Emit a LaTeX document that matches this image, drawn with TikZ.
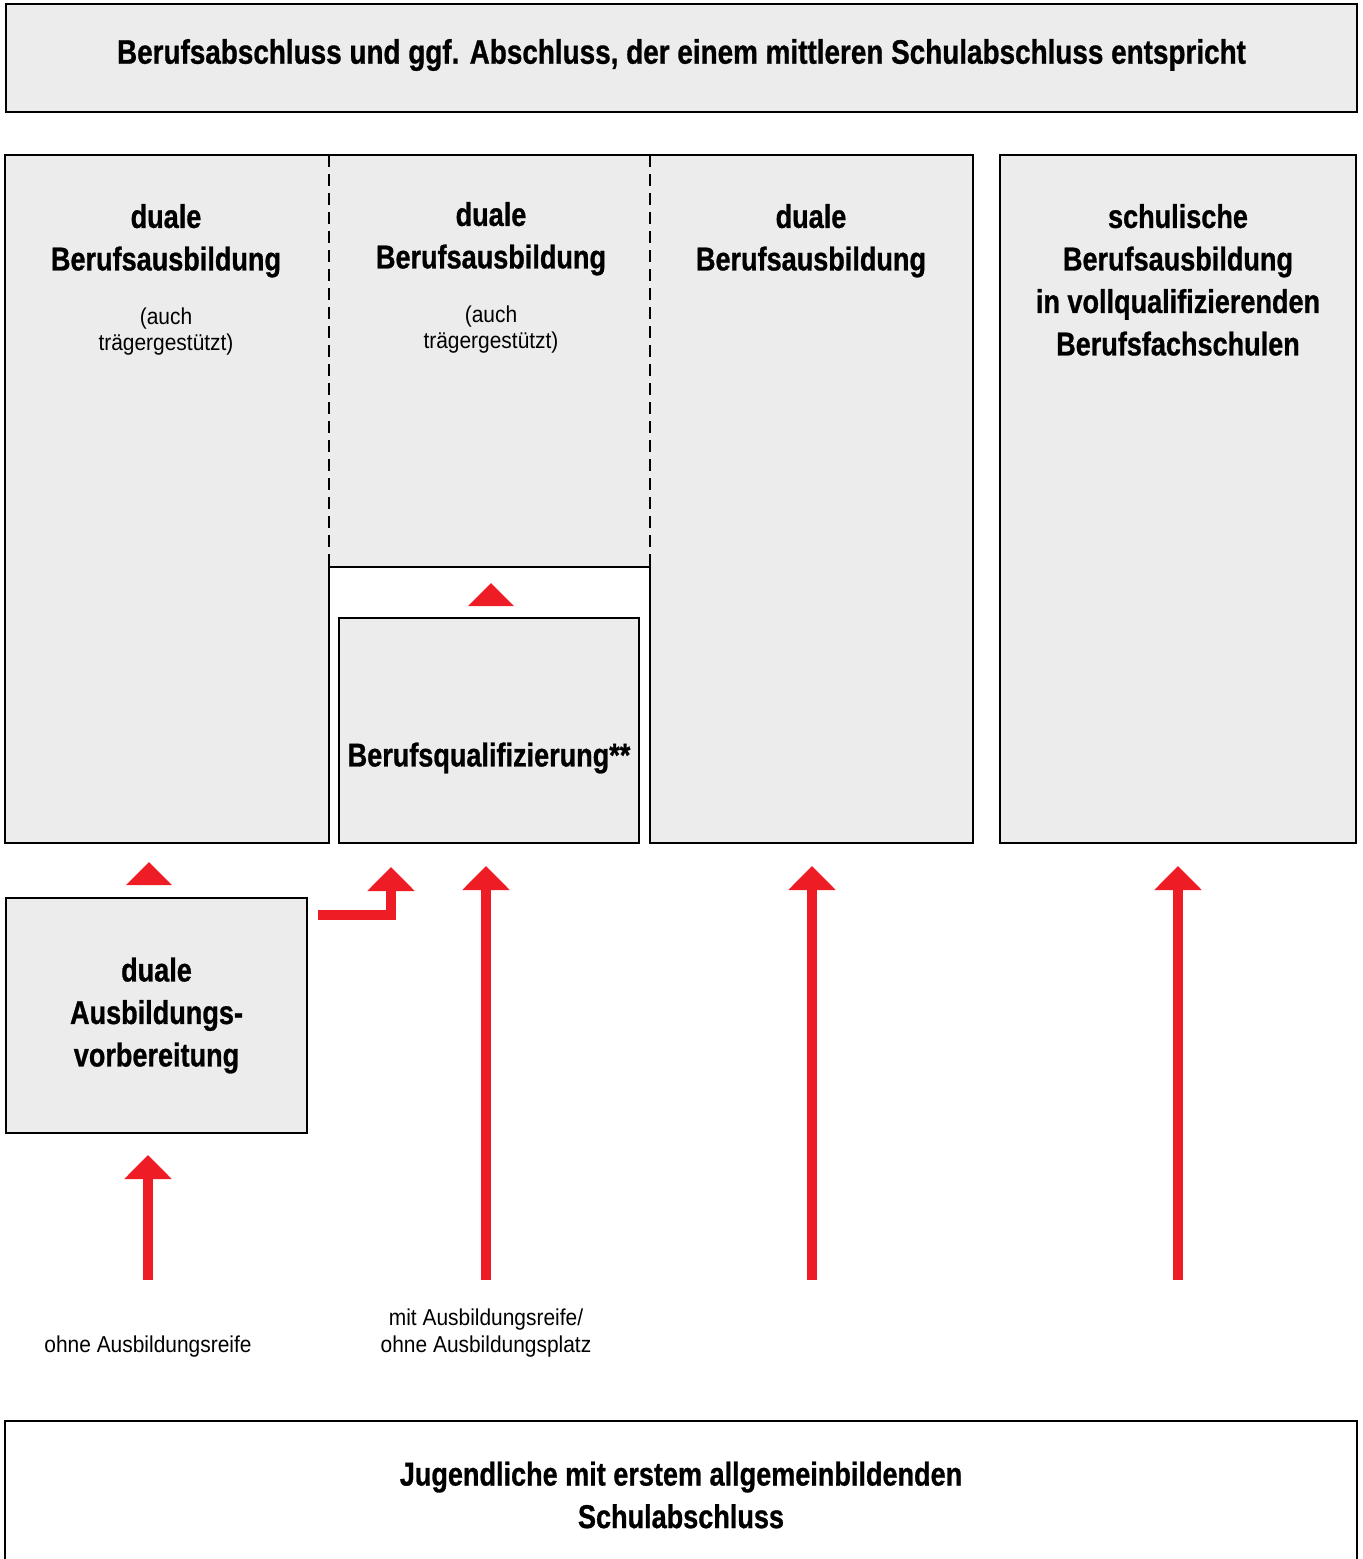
\documentclass[tikz,border=0pt]{standalone}
\usepackage{fontspec}
\setmainfont{Liberation Sans}[FakeStretch=0.91]
\newfontfamily\headfont{Liberation Sans}[FakeStretch=0.82,FakeBold=0.8]
\usetikzlibrary{arrows.meta,positioning,calc}

\definecolor{boxgray}{HTML}{ECECEC}
\definecolor{arrowred}{HTML}{EE1C25}

\begin{document}
\begin{tikzpicture}
  [x=1pt,y=-1pt,
   every node/.style={inner sep=0pt,outer sep=0pt},
   box/.style={draw,line width=2.5pt,fill=boxgray,align=center},
   area/.style={fill=boxgray},
   head/.style={font=\headfont\bfseries\fontsize{33}{42.5}\selectfont,align=center},
   note/.style={font=\fontsize{23}{26.5}\selectfont,align=center},
   dashline/.style={line width=2pt,dash pattern=on 12pt off 7pt},
   redarrow/.style={arrowred,line width=10pt,line join=miter,
     -{Triangle[width=46pt,length=24pt]}},
   marker/.style={fill=arrowred}]
  \useasboundingbox (0,0) rectangle (1363,1559);

  % Abschluss oben
  \node[box,minimum width=1351pt,minimum height=108pt] (top) at (681.5,58) {};
  \node[head,font=\headfont\bfseries\fontsize{34}{42}\selectfont] (toptext) at (681.5,55)
    {Berufsabschluss und ggf. Abschluss, der einem mittleren Schulabschluss entspricht};

  % drei Spalten duale Ausbildung
  \node[area,minimum width=324pt,minimum height=688pt] (colA) at (167,499) {};
  \node[area,minimum width=321pt,minimum height=412pt] (colB) at (489.5,361) {};
  \node[area,minimum width=323pt,minimum height=688pt] (colC) at (811.5,499) {};
  \draw[line width=2.5pt] (colB.south west) -- (colA.south east) -- (colA.south west)
    -- (colA.north west) -- (colC.north east) -- (colC.south east)
    -- (colC.south west) -- (colB.south east) -- cycle;
  \draw[dashline] (colB.north west) -- (colB.south west);
  \draw[dashline] (colB.north east) -- (colB.south east);

  \node[head,anchor=north] (tA) at (166,204) {duale\\Berufsausbildung};
  \node[note,below=30pt of tA] (nA) {(auch\\trägergestützt)};
  \node[head,anchor=north] (tB) at (491,202) {duale\\Berufsausbildung};
  \node[note,below=30pt of tB] (nB) {(auch\\trägergestützt)};
  \node[head,anchor=north] (tC) at (811,204) {duale\\Berufsausbildung};

  \node[box,minimum width=300pt,minimum height=225pt] (quali) at (489,730.5) {};
  \node[head] (qtext) at (489,758) {Berufsqualifizierung**};

  % schulische Ausbildung
  \node[box,minimum width=356pt,minimum height=688pt] (school) at (1178,499) {};
  \node[head,anchor=north] (tD) at (1178,204)
    {schulische\\Berufsausbildung\\in vollqualifizierenden\\Berufsfachschulen};

  % Ausbildungsvorbereitung
  \node[box,head,minimum width=301pt,minimum height=235pt] (vorb) at (156.5,1015.5)
    {duale\\Ausbildungs-\\vorbereitung};

  % Jugendliche unten
  \node[box,head,fill=white,minimum width=1352pt,minimum height=148pt] (youth) at (681,1495)
    {Jugendliche mit erstem allgemeinbildenden\\Schulabschluss};

  % Pfeile
  \fill[marker] (491,583) -- ++(23,23) -- ++(-46,0) -- cycle;
  \fill[marker] (149,862) -- ++(23,23) -- ++(-46,0) -- cycle;

  \coordinate (fromA) at (148,1280);
  \coordinate (fromB) at (486,1280);
  \coordinate (fromC) at (812,1280);
  \coordinate (fromD) at (1178,1280);
  \coordinate (bendstart) at (318,914.5);
  \coordinate (bend) at (391,914.5);
  \draw[redarrow] (fromA) -- ($(fromA |- vorb.south)+(0,22)$);
  \draw[redarrow] (fromB) -- ($(fromB |- quali.south)+(0,23)$);
  \draw[redarrow] (fromC) -- ($(fromC |- colC.south)+(0,23)$);
  \draw[redarrow] (fromD) -- ($(fromD |- school.south)+(0,23)$);
  \draw[redarrow] (bendstart) -- (bend) -- ($(bend |- quali.south)+(0,24)$);

  \node[note] (lA) at (148,1347) {ohne Ausbildungsreife};
  \node[note] (lB) at (486,1333) {mit Ausbildungsreife/\\ohne Ausbildungsplatz};
\end{tikzpicture}
\end{document}
